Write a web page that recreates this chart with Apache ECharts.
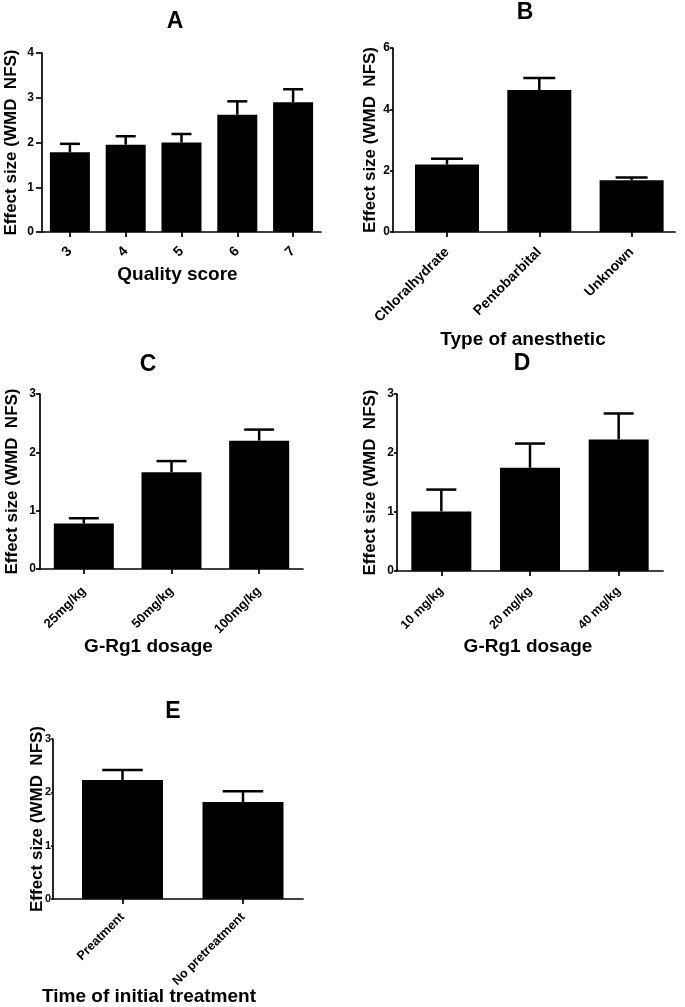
<!DOCTYPE html>
<html>
<head>
<meta charset="utf-8">
<script src="https://cdn.jsdelivr.net/npm/echarts@6/dist/echarts.min.js"></script>
<style>
html,body{margin:0;padding:0;background:#fff;}
#chart{width:685px;height:1007px;}
</style>
</head>
<body>
<div id="chart"></div>
<script>
// ---- Data ----
const catsA = ['3', '4', '5', '6', '7'];
const meanA = [1.78, 1.95, 2.0, 2.62, 2.9];
const upperA = [1.97, 2.14, 2.19, 2.92, 3.19];

const catsB = ['Chloralhydrate', 'Pentobarbital', 'Unknown'];
const meanB = [2.2, 4.63, 1.69];
const upperB = [2.39, 5.02, 1.78];

const catsC = ['25mg/kg', '50mg/kg', '100mg/kg'];
const meanC = [0.78, 1.66, 2.2];
const upperC = [0.87, 1.85, 2.39];

const catsD = ['10 mg/kg', '20 mg/kg', '40 mg/kg'];
const meanD = [1.01, 1.75, 2.23];
const upperD = [1.38, 2.16, 2.67];

const catsE = ['Preatment', 'No pretreatment'];
const meanE = [2.23, 1.82];
const upperE = [2.42, 2.02];

const yNames = 'Effect size (WMD  NFS)';
const panelTitles = ['A', 'B', 'C', 'D', 'E'];
const xNames = ['Quality score', 'Type of anesthetic', 'G-Rg1 dosage', 'G-Rg1 dosage', 'Time of initial treatment'];
const yMax = [4, 6, 3, 3, 3];
const yStep = [1, 2, 1, 1, 1];

// ---- Layout ----
const FONT = "'Liberation Sans', Arial, sans-serif";
const panels = [
  {cats: catsA, mean: meanA, upper: upperA, grid: {left: 42, top: 53, width: 279, height: 179}, xMin: 0.5, xMax: 5.5, barW: 40, yGap: 22, yLabMargin: 8, yFont: 12, tickLen: 6, xLab: 17, xFont: 14, xGap: 33, xShift: -4, title: [175, 22]},
  {cats: catsB, mean: meanB, upper: upperB, grid: {left: 393, top: 48, width: 282, height: 184}, xMin: 0.415, xMax: 3.47, barW: 64, yGap: 14, yLabMargin: 3, yFont: 12, tickLen: 3, xLab: 18, xFont: 14, xGap: 98, xShift: -11, title: [525, 13]},
  {cats: catsC, mean: meanC, upper: upperC, grid: {left: 40, top: 394, width: 263, height: 175}, xMin: 0.5, xMax: 3.5, barW: 60, yGap: 19, yLabMargin: 4, yFont: 12, tickLen: 4, xLab: 20, xFont: 13, xGap: 68, xShift: -23, title: [148, 365]},
  {cats: catsD, mean: meanD, upper: upperD, grid: {left: 397, top: 394, width: 266, height: 177}, xMin: 0.5, xMax: 3.5, barW: 60, yGap: 18, yLabMargin: 3, yFont: 12, tickLen: 3, xLab: 18, xFont: 12.5, xGap: 66, xShift: -2, title: [522, 364]},
  {cats: catsE, mean: meanE, upper: upperE, grid: {left: 53, top: 739, width: 250, height: 160}, xMin: 0.423, xMax: 2.498, barW: 81, yGap: 7, yLabMargin: 2, yFont: 11, tickLen: 2, xLab: 16, xFont: 12.5, xGap: 88, xShift: -29, title: [173, 712]}
];

function errRender(capW) {
  return function (params, api) {
    const x = api.value(0);
    const base = api.coord([x, api.value(1)]);
    const top = api.coord([x, api.value(2)]);
    const st = {stroke: '#000', lineWidth: 2.5};
    return {
      type: 'group',
      children: [
        {type: 'line', shape: {x1: top[0], y1: base[1], x2: top[0], y2: top[1]}, style: st},
        {type: 'line', shape: {x1: top[0] - capW / 2, y1: top[1], x2: top[0] + capW / 2, y2: top[1]}, style: st}
      ]
    };
  };
}

const grids = [], xAxes = [], yAxes = [], series = [], graphics = [];
panels.forEach(function (p, i) {
  const pos = p.cats.map(function (c, j) { return j + 1; });
  grids.push(Object.assign({containLabel: false, outerBoundsMode: 'none'}, p.grid));
  xAxes.push({
    type: 'value', gridIndex: i, min: p.xMin, max: p.xMax,
    name: xNames[i], nameLocation: 'middle', nameGap: p.xGap, nameMoveOverlap: false,
    nameTextStyle: {fontFamily: FONT, fontWeight: 'bold', fontSize: 19, color: '#000',
      padding: p.xShift < 0 ? [0, -2 * p.xShift, 0, 0] : [0, 0, 0, 2 * p.xShift]},
    axisLine: {show: true, onZero: false, lineStyle: {color: '#000', width: 1.7}},
    axisTick: {show: true, customValues: pos, length: 5, lineStyle: {color: '#000', width: 1.7}},
    axisLabel: {customValues: pos, rotate: 45, margin: p.xLab, fontFamily: FONT, fontWeight: 'bold', fontSize: p.xFont, color: '#000',
      formatter: (function (cats) { return function (v) { return cats[Math.round(v) - 1] || ''; }; })(p.cats)},
    splitLine: {show: false}
  });
  yAxes.push({
    type: 'value', gridIndex: i, min: 0, max: yMax[i], interval: yStep[i],
    name: yNames, nameLocation: 'middle', nameGap: p.yGap, nameMoveOverlap: false,
    nameTextStyle: {fontFamily: FONT, fontWeight: 'bold', fontSize: 17, color: '#000'},
    axisLine: {show: true, onZero: false, lineStyle: {color: '#000', width: 1.7}},
    axisTick: {show: true, length: p.tickLen, lineStyle: {color: '#000', width: 1.7}},
    axisLabel: {margin: p.yLabMargin, fontFamily: FONT, fontWeight: 'bold', fontSize: p.yFont, color: '#000'},
    splitLine: {show: false}
  });
  series.push({
    type: 'bar', xAxisIndex: i, yAxisIndex: i,
    data: p.mean.map(function (m, j) { return [pos[j], m]; }),
    barWidth: p.barW,
    itemStyle: {color: '#000'}, silent: true
  });
  series.push({
    type: 'custom', xAxisIndex: i, yAxisIndex: i,
    data: p.mean.map(function (m, j) { return [pos[j], m, p.upper[j]]; }),
    renderItem: errRender(p.barW / 2), z: 3, silent: true
  });
  graphics.push({
    type: 'text', x: p.title[0], y: p.title[1],
    style: {text: panelTitles[i], fontFamily: FONT, fontWeight: 'bold', fontSize: 23, fill: '#000', align: 'center', verticalAlign: 'middle'}
  });
});

const chart = echarts.init(document.getElementById('chart'), null, {renderer: 'canvas'});
chart.setOption({
  backgroundColor: '#fff',
  animation: false,
  grid: grids,
  xAxis: xAxes,
  yAxis: yAxes,
  series: series,
  graphic: graphics
});
</script>
</body>
</html>
